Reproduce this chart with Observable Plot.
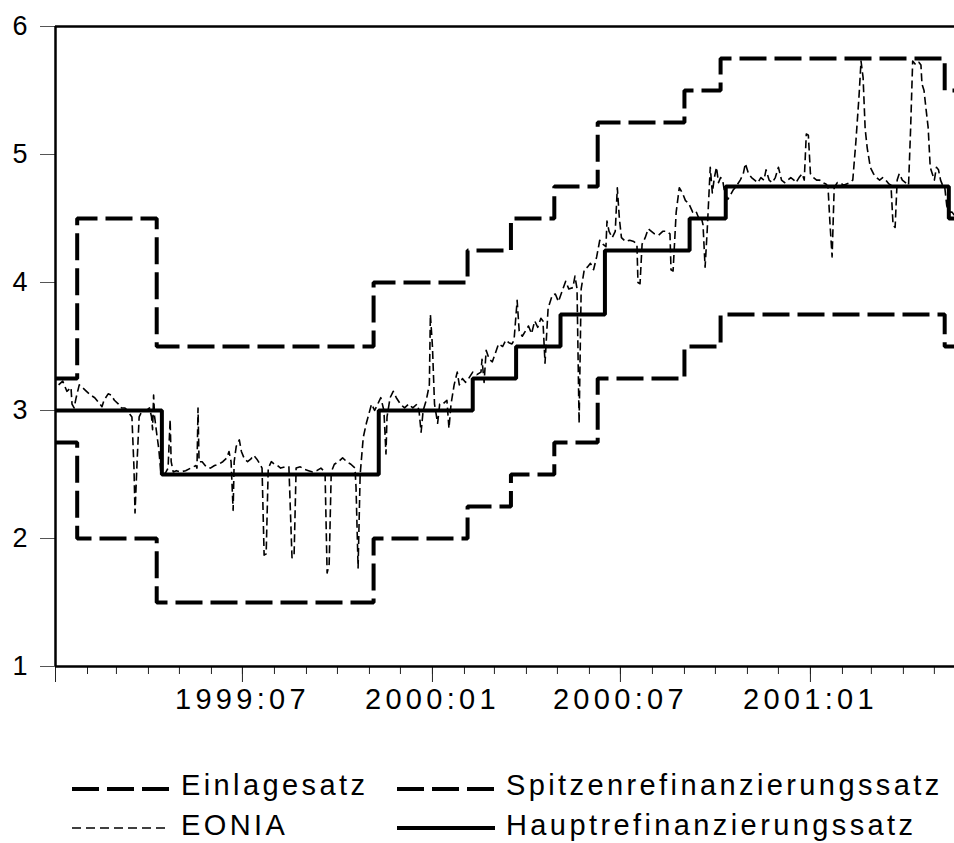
<!DOCTYPE html>
<html>
<head>
<meta charset="utf-8">
<script src="https://cdn.jsdelivr.net/npm/d3@7"></script>
<script src="https://cdn.jsdelivr.net/npm/@observablehq/plot@0.6"></script>
<style>
  html, body { margin: 0; padding: 0; background: #fff; }
  body { width: 954px; font-family: "Liberation Sans", Arial, Helvetica, sans-serif; }
  #legend { position: relative; width: 954px; height: 117px; }
  #legend .sw { position: absolute; width: 100px; height: 12px; overflow: visible; }
  #legend .lab { position: absolute; font-size: 29px; line-height: 29px; letter-spacing: 3.4px; color: #000; white-space: nowrap; }
</style>
</head>
<body>
<div id="chart"></div>
<div id="legend"></div>
<script>
// ---- Data ----
const seriesNames = ["Einlagesatz", "Spitzenrefinanzierungssatz", "EONIA", "Hauptrefinanzierungssatz"];

// Deposit facility (Einlagesatz) and marginal lending (Spitzenrefinanzierungssatz) change dates
const corridorDates = ["1999-01-01","1999-01-22","1999-04-09","1999-11-05","2000-02-04","2000-03-17","2000-04-28","2000-06-09","2000-09-01","2000-10-06","2001-05-11","2001-05-31"];
const depositRates  = [2.75, 2.00, 1.50, 2.00, 2.25, 2.50, 2.75, 3.25, 3.50, 3.75, 3.50, 3.50];
const lendingRates  = [3.25, 4.50, 3.50, 4.00, 4.25, 4.50, 4.75, 5.25, 5.50, 5.75, 5.50, 5.50];

// Main refinancing rate (Hauptrefinanzierungssatz)
const mroDates = ["1999-01-01","1999-04-14","1999-11-10","2000-02-09","2000-03-22","2000-05-04","2000-06-16","2000-09-06","2000-10-11","2001-05-15","2001-05-31"];
const mroRates = [3.00, 2.50, 3.00, 3.25, 3.50, 3.75, 4.25, 4.50, 4.75, 4.50, 4.50];

// EONIA
const eonia = [
["1999-01-04",3.20],["1999-01-08",3.23],["1999-01-12",3.15],["1999-01-16",3.18],["1999-01-17",3.05],["1999-01-19",3.02],
["1999-01-21",3.10],["1999-01-24",3.20],["1999-01-27",3.18],["1999-01-31",3.15],["1999-02-04",3.12],["1999-02-08",3.10],
["1999-02-12",3.06],["1999-02-15",3.03],["1999-02-17",3.08],["1999-02-21",3.13],["1999-02-24",3.12],["1999-02-27",3.08],
["1999-03-03",3.05],["1999-03-06",3.02],["1999-03-09",3.02],["1999-03-12",3.00],["1999-03-14",2.97],["1999-03-16",2.95],
["1999-03-18",2.55],["1999-03-19",2.20],["1999-03-21",2.60],["1999-03-23",2.95],["1999-03-26",3.00],["1999-03-30",3.00],
["1999-04-02",3.02],["1999-04-04",2.95],["1999-04-05",2.85],["1999-04-06",3.12],["1999-04-07",2.95],["1999-04-09",2.82],
["1999-04-11",2.70],["1999-04-13",2.52],["1999-04-16",2.50],["1999-04-18",2.52],["1999-04-20",2.55],["1999-04-22",2.93],
["1999-04-23",2.60],["1999-04-25",2.52],["1999-04-28",2.53],["1999-05-02",2.52],["1999-05-07",2.53],["1999-05-12",2.55],
["1999-05-17",2.57],["1999-05-18",2.55],["1999-05-19",3.02],["1999-05-20",2.60],["1999-05-23",2.60],["1999-05-27",2.56],
["1999-05-31",2.55],["1999-06-04",2.57],["1999-06-08",2.58],["1999-06-12",2.60],["1999-06-16",2.63],["1999-06-18",2.68],
["1999-06-20",2.60],["1999-06-22",2.22],["1999-06-23",2.60],["1999-06-25",2.72],["1999-06-28",2.77],["1999-06-30",2.68],
["1999-07-03",2.62],["1999-07-06",2.60],["1999-07-09",2.62],["1999-07-12",2.65],["1999-07-15",2.62],["1999-07-18",2.58],
["1999-07-20",2.55],["1999-07-22",1.87],["1999-07-24",1.88],["1999-07-26",2.55],["1999-07-29",2.60],["1999-08-01",2.58],
["1999-08-04",2.57],["1999-08-07",2.55],["1999-08-11",2.56],["1999-08-15",2.56],["1999-08-18",1.85],["1999-08-20",1.86],
["1999-08-22",2.55],["1999-08-26",2.56],["1999-08-30",2.54],["1999-09-03",2.53],["1999-09-07",2.52],["1999-09-11",2.53],
["1999-09-15",2.55],["1999-09-19",2.52],["1999-09-21",1.73],["1999-09-23",1.80],["1999-09-25",2.52],["1999-09-28",2.58],
["1999-10-02",2.60],["1999-10-06",2.63],["1999-10-10",2.60],["1999-10-14",2.58],["1999-10-18",2.55],["1999-10-19",2.40],
["1999-10-21",1.77],["1999-10-23",2.50],["1999-10-26",2.79],["1999-10-29",2.90],["1999-10-31",2.96],["1999-11-03",3.05],
["1999-11-06",3.00],["1999-11-09",3.05],["1999-11-12",3.10],["1999-11-15",3.00],["1999-11-17",2.66],["1999-11-18",2.95],
["1999-11-21",3.10],["1999-11-24",3.15],["1999-11-27",3.10],["1999-12-01",3.05],["1999-12-05",3.02],["1999-12-09",3.05],
["1999-12-13",3.02],["1999-12-17",3.05],["1999-12-19",3.00],["1999-12-21",2.83],["1999-12-23",3.00],["1999-12-26",3.08],
["1999-12-29",3.20],["1999-12-30",3.75],["2000-01-01",3.50],["2000-01-03",3.05],["2000-01-06",2.90],["2000-01-08",3.05],
["2000-01-11",3.05],["2000-01-15",3.08],["2000-01-17",2.86],["2000-01-19",3.05],["2000-01-22",3.20],["2000-01-25",3.30],
["2000-01-27",3.20],["2000-01-30",3.25],["2000-02-02",3.22],["2000-02-05",3.25],["2000-02-09",3.30],["2000-02-13",3.28],
["2000-02-17",3.30],["2000-02-18",3.40],["2000-02-20",3.22],["2000-02-22",3.47],["2000-02-25",3.40],["2000-02-28",3.38],
["2000-03-02",3.45],["2000-03-05",3.52],["2000-03-09",3.50],["2000-03-12",3.55],["2000-03-15",3.53],["2000-03-18",3.52],
["2000-03-20",3.55],["2000-03-23",3.86],["2000-03-25",3.62],["2000-03-28",3.58],["2000-03-31",3.62],["2000-04-03",3.66],
["2000-04-06",3.60],["2000-04-09",3.70],["2000-04-12",3.65],["2000-04-15",3.72],["2000-04-17",3.70],["2000-04-19",3.37],
["2000-04-22",3.80],["2000-04-26",3.90],["2000-04-29",3.91],["2000-05-02",3.85],["2000-05-05",3.92],["2000-05-09",4.01],
["2000-05-12",3.95],["2000-05-16",3.96],["2000-05-18",4.05],["2000-05-20",3.95],["2000-05-22",2.90],["2000-05-24",3.95],
["2000-05-27",4.10],["2000-05-30",4.12],["2000-06-02",4.15],["2000-06-05",4.10],["2000-06-08",4.20],["2000-06-11",4.33],
["2000-06-14",4.30],["2000-06-17",4.28],["2000-06-18",4.48],["2000-06-20",4.40],["2000-06-23",4.35],["2000-06-26",4.40],
["2000-06-28",4.74],["2000-06-30",4.50],["2000-07-02",4.35],["2000-07-06",4.32],["2000-07-10",4.33],["2000-07-14",4.32],
["2000-07-17",4.30],["2000-07-18",4.00],["2000-07-20",3.99],["2000-07-22",4.30],["2000-07-25",4.35],["2000-07-28",4.42],
["2000-07-31",4.40],["2000-08-03",4.38],["2000-08-07",4.37],["2000-08-11",4.40],["2000-08-15",4.40],["2000-08-18",4.38],
["2000-08-19",4.10],["2000-08-21",4.09],["2000-08-24",4.55],["2000-08-27",4.74],["2000-08-30",4.70],["2000-09-02",4.64],
["2000-09-05",4.62],["2000-09-09",4.55],["2000-09-12",4.56],["2000-09-15",4.50],["2000-09-17",4.52],["2000-09-19",4.45],
["2000-09-21",4.12],["2000-09-23",4.40],["2000-09-26",4.90],["2000-09-28",4.70],["2000-09-30",4.82],["2000-10-02",4.90],
["2000-10-04",4.78],["2000-10-06",4.82],["2000-10-08",4.80],["2000-10-10",4.70],["2000-10-13",4.65],["2000-10-16",4.69],
["2000-10-18",4.72],["2000-10-21",4.75],["2000-10-25",4.80],["2000-10-28",4.85],["2000-10-30",4.93],["2000-11-02",4.85],
["2000-11-05",4.82],["2000-11-08",4.80],["2000-11-11",4.78],["2000-11-14",4.82],["2000-11-17",4.80],["2000-11-19",4.88],
["2000-11-22",4.80],["2000-11-25",4.78],["2000-11-28",4.82],["2000-12-01",4.90],["2000-12-04",4.80],["2000-12-07",4.78],
["2000-12-10",4.80],["2000-12-13",4.82],["2000-12-16",4.80],["2000-12-18",4.78],["2000-12-21",4.82],["2000-12-24",4.85],
["2000-12-26",4.80],["2000-12-28",5.16],["2000-12-30",5.15],["2001-01-01",4.85],["2001-01-04",4.82],["2001-01-07",4.80],
["2001-01-10",4.80],["2001-01-13",4.78],["2001-01-16",4.77],["2001-01-18",4.75],["2001-01-20",4.45],["2001-01-22",4.20],
["2001-01-24",4.74],["2001-01-27",4.78],["2001-01-30",4.78],["2001-02-02",4.76],["2001-02-05",4.77],["2001-02-08",4.78],
["2001-02-11",4.80],["2001-02-14",5.10],["2001-02-17",5.45],["2001-02-19",5.73],["2001-02-21",5.60],["2001-02-23",5.20],
["2001-02-25",5.05],["2001-02-28",4.90],["2001-03-03",4.85],["2001-03-06",4.82],["2001-03-09",4.80],["2001-03-12",4.82],
["2001-03-15",4.80],["2001-03-18",4.77],["2001-03-20",4.76],["2001-03-22",4.45],["2001-03-24",4.43],["2001-03-26",4.80],
["2001-03-28",4.85],["2001-03-31",4.80],["2001-04-03",4.78],["2001-04-06",4.76],["2001-04-08",5.20],["2001-04-10",5.73],
["2001-04-13",5.70],["2001-04-16",5.72],["2001-04-18",5.70],["2001-04-19",5.55],["2001-04-21",5.50],["2001-04-23",5.35],
["2001-04-25",5.21],["2001-04-27",4.90],["2001-04-29",4.85],["2001-05-01",4.80],["2001-05-03",4.90],["2001-05-05",4.88],
["2001-05-07",4.80],["2001-05-09",4.76],["2001-05-11",4.75],["2001-05-13",4.60],["2001-05-15",4.55],["2001-05-18",4.55],
["2001-05-21",4.52]
];

// Axes
const xStart = "1999-01-01", xEnd = "2001-05-20T12:00";
const yTicks = [1, 2, 3, 4, 5, 6];
const majorTicks = ["1999-01-01", "1999-07-01", "2000-01-01", "2000-07-01", "2001-01-01"];
const majorLabels = ["", "1999:07", "2000:01", "2000:07", "2001:01"];

// ---- Build tables ----
const toRows = (dates, vals) => dates.map((d, i) => ({date: new Date(d), rate: vals[i]}));
const depositRows = toRows(corridorDates, depositRates);
const lendingRows = toRows(corridorDates, lendingRates);
const mroRows = toRows(mroDates, mroRates);
const eoniaRows = eonia.map(([d, v]) => ({date: new Date(d), rate: v}));

const x0 = new Date(xStart), x1 = new Date(xEnd);
const monthTicks = d3.utcMonth.range(x0, new Date("2001-06-01"));
const majorDates = majorTicks.map(d => new Date(d));
const labelMap = new Map(majorDates.map((d, i) => [+d, majorLabels[i]]));

const heavy = {stroke: "black", strokeWidth: 4, strokeLinecap: "butt", strokeLinejoin: "miter", curve: "step-after", clip: true};

const chart = Plot.plot({
  width: 954,
  height: 726,
  marginTop: 26,
  marginBottom: 60,
  marginLeft: 55,
  marginRight: 0,
  style: {fontFamily: "'Liberation Sans', Arial, Helvetica, sans-serif", color: "black", background: "white"},
  x: {type: "utc", domain: [x0, x1], label: null},
  y: {domain: [1, 6], label: null},
  marks: [
    Plot.axisY({ticks: yTicks, tickSize: 15, tickPadding: 13, fontSize: 27, stroke: "#555", strokeWidth: 1, tickFormat: d => String(d), label: null}),
    Plot.axisX({ticks: monthTicks, tickSize: 8, tickFormat: () => null, stroke: "#222", strokeWidth: 1, label: null}),
    Plot.axisX({ticks: majorDates, tickSize: 16, tickPadding: 6, fontSize: 29, stroke: "#222", strokeWidth: 1,
      tickFormat: d => labelMap.get(+d) || null, label: null}),
    Plot.line(lendingRows, {x: "date", y: "rate", ...heavy, strokeDasharray: "27,8"}),
    Plot.line(depositRows, {x: "date", y: "rate", ...heavy, strokeDasharray: "27,8"}),
    Plot.line(mroRows, {x: "date", y: "rate", ...heavy}),
    Plot.line(eoniaRows, {x: "date", y: "rate", stroke: "black", strokeWidth: 1.6, strokeDasharray: "8,4", strokeLinecap: "butt", clip: true}),
    Plot.ruleY([1, 6], {stroke: "black", strokeWidth: 2.5}),
    Plot.ruleX([x0], {stroke: "black", strokeWidth: 2.5})
  ]
});
// enforce label sizes / spacing
chart.querySelectorAll("text").forEach(t => {
  const s = t.textContent;
  if (/^\d{4}:\d{2}$/.test(s)) {
    t.style.fontSize = "29px";
    t.setAttribute("letter-spacing", "4.3");
  } else if (/^\d$/.test(s)) {
    t.style.fontSize = "27px";
  }
});
document.getElementById("chart").appendChild(chart);

// ---- Legend ----
const legend = document.getElementById("legend");
const legendItems = [
  {name: seriesNames[0], col: 0, row: 0, width: 4, dash: "27,8"},
  {name: seriesNames[1], col: 1, row: 0, width: 4, dash: "27,8"},
  {name: seriesNames[2], col: 0, row: 1, width: 1.4, dash: "9,5"},
  {name: seriesNames[3], col: 1, row: 1, width: 4, dash: null}
];
const colSwatchX = [72, 397], colTextX = [181, 506];
const rowSwatchY = [63, 102], rowTextTop = [45, 85];
legendItems.forEach(it => {
  const svg = d3.create("svg").attr("class", "sw").attr("width", 100).attr("height", 12)
    .style("left", colSwatchX[it.col] + "px").style("top", (rowSwatchY[it.row] - 6) + "px");
  svg.append("line").attr("x1", 0).attr("x2", 98).attr("y1", 6).attr("y2", 6)
    .attr("stroke", "black").attr("stroke-width", it.width)
    .attr("stroke-dasharray", it.dash);
  legend.appendChild(svg.node());
  const lab = document.createElement("span");
  lab.className = "lab";
  lab.textContent = it.name;
  lab.style.left = colTextX[it.col] + "px";
  lab.style.top = rowTextTop[it.row] + "px";
  legend.appendChild(lab);
});
</script>
</body>
</html>
